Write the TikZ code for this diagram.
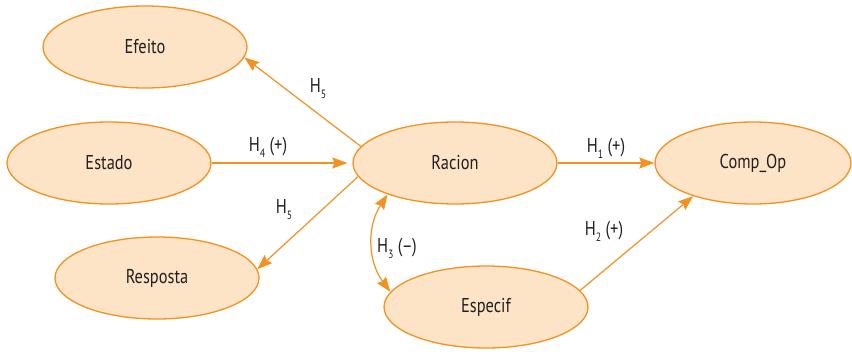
\documentclass[tikz,border=0pt]{standalone}
\usepackage{fontspec}
\setmainfont[FakeStretch=0.82]{PT Sans}
\usetikzlibrary{shapes.geometric,arrows.meta}
\definecolor{ostroke}{RGB}{243,146,32}
\definecolor{ofill}{RGB}{253,228,199}
\definecolor{otext}{RGB}{35,31,32}
\newcommand{\hyp}[2]{H\raisebox{-0.6ex}{\fontsize{12}{12}\selectfont #1}#2}
\tikzset{
  var/.style={ellipse, draw=ostroke, fill=ofill, line width=1.3pt, inner sep=0pt,
    minimum width=204pt, minimum height=82pt, text=otext,
    font=\fontsize{20}{20}\selectfont},
  conn/.style={draw=ostroke, line width=1.2pt,
    -{Stealth[length=15pt,width=11pt,inset=2pt]}},
  dconn/.style={draw=ostroke, line width=1.2pt,
    {Stealth[length=15pt,width=11pt,inset=2pt]}-{Stealth[length=15pt,width=11pt,inset=2pt]}},
  lbl/.style={text=otext, font=\fontsize{20}{20}\selectfont, inner sep=0pt}
}
\begin{document}
\begin{tikzpicture}[x=1pt,y=-1pt]
\useasboundingbox (0,0) rectangle (852,351);
\node[var] (efeito) at (145,47) {Efeito};
\node[var] (estado) at (109,163) {Estado};
\node[var] (resposta) at (157,278) {Resposta};
\node[var] (racion) at (455,163) {Racion};
\node[var, minimum width=196pt] (compop) at (753,163) {Comp\_Op};
\node[var] (especif) at (486,307) {Especif};

\draw[conn] (racion.170) -- (efeito.-6);
\draw[conn, shorten >=5pt] (estado.east) -- (racion.west);
\draw[conn] (racion.188) -- (resposta.5);
\draw[conn] (racion.east) -- (compop.west);
\draw[conn] (especif.10) -- (compop.-151);
\draw[dconn] (racion.205) to[bend right=35] (especif.171);

\node[lbl] (l1) at (318,89) {\hyp{5}{}};
\node[lbl] (l2) at (268,147) {\hyp{4}{ (+)}};
\node[lbl] (l3) at (284,210) {\hyp{5}{}};
\node[lbl] (l4) at (606,148) {\hyp{1}{ (+)}};
\node[lbl] (l5) at (604,231) {\hyp{2}{ (+)}};
\node[lbl] (l6) at (397,248) {\hyp{3}{ (–)}};
\end{tikzpicture}
\end{document}
